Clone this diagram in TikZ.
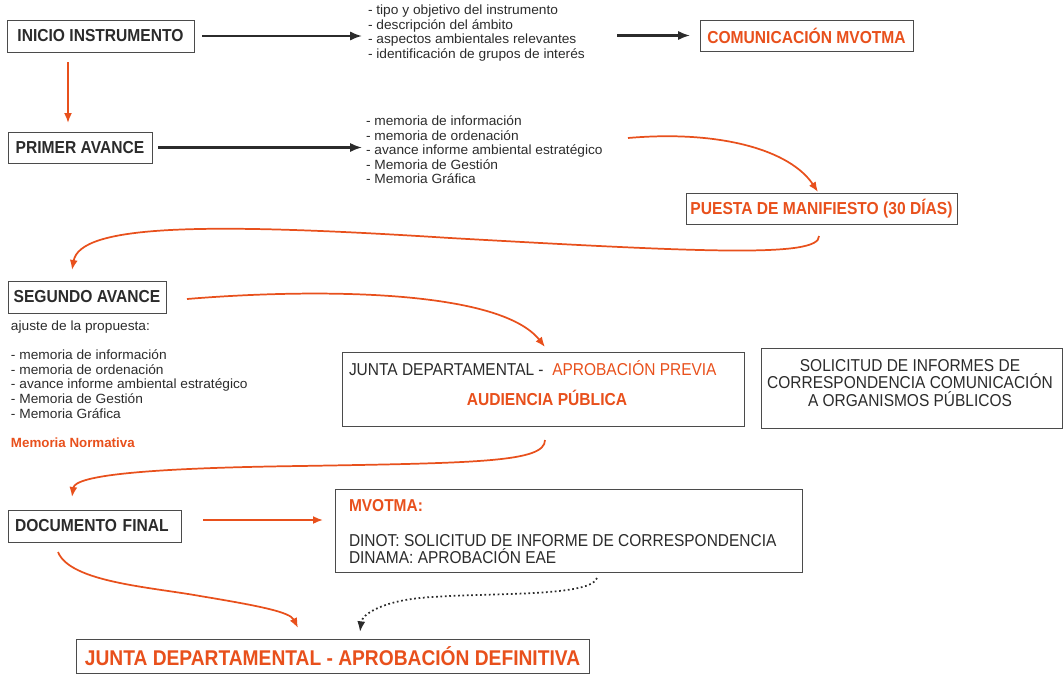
\documentclass[tikz,border=0pt]{standalone}
\usepackage{fontspec}
\setmainfont{Liberation Sans}
\newfontfamily\narrowfont[FakeStretch=0.9]{Liberation Sans}
\newfontfamily\widefont[FakeStretch=1.03]{Liberation Sans}
\usetikzlibrary{positioning,calc,arrows.meta}
\definecolor{orng}{HTML}{E8501C}
\definecolor{ink}{HTML}{2B2B2B}

\begin{document}
\begin{tikzpicture}[x=0.75pt,y=-0.75pt,
        every node/.style={inner sep=0pt,outer sep=0pt,text=ink},
        box/.style={draw=ink!85,line width=0.7pt},
        title/.style={box,font=\narrowfont\bfseries\fontsize{13}{15}\selectfont},
        plain/.style={font=\narrowfont\fontsize{12.9}{13}\selectfont},
        items/.style={font=\widefont\fontsize{10}{10.9}\selectfont,align=left,anchor=north west},
        link/.style={-{Latex[length=9pt,width=7pt]},line width=1.6pt,ink},
        flow/.style={-{Latex[length=7.5pt,width=6pt]},line width=1.3pt,orng}]
   \useasboundingbox (0,0) rectangle (1063,675);
   % boxes of the main column
   \node[title,minimum width=140.25pt,minimum height=24pt] (inicio) at (100.5,36) {INICIO INSTRUMENTO};
   \node[title,minimum width=108pt,minimum height=23.25pt] (primer) at (80,147.5) {PRIMER AVANCE};
   \node[title,minimum width=118.5pt,minimum height=24pt] (segundo) at (87,297) {SEGUNDO AVANCE};
   \node[title,align=left,text width=119.25pt,inner xsep=5.25pt,minimum height=24pt] (docf) at (94.5,526) {DOCUMENTO FINAL};
   \node[title,text=orng,minimum width=159.75pt,minimum height=23.25pt] (comun) at (806.5,35.5) {COMUNICACIÓN MVOTMA};
   \node[title,text=orng,minimum width=203.25pt,minimum height=23.25pt] (puesta) at (821.5,208.5) {PUESTA DE MANIFIESTO (30 DÍAS)};
   \node[box,text=orng,font=\narrowfont\bfseries\fontsize{16}{18}\selectfont,minimum width=384.75pt,minimum height=25.5pt] (definitiva) at (332.5,656) {JUNTA DEPARTAMENTAL - APROBACIÓN DEFINITIVA};
   % lists
   \node[items] (list1) at (368,5) {- tipo y objetivo del instrumento\\- descripción del ámbito\\- aspectos ambientales relevantes\\- identificación de grupos de interés};
   \node[items] (list2) at (366,116) {- memoria de información\\- memoria de ordenación\\- avance informe ambiental estratégico\\- Memoria de Gestión\\- Memoria Gráfica};
   \node[items] (ajuste) at (11,321) {ajuste de la propuesta:\\[11pt]- memoria de información\\- memoria de ordenación\\- avance informe ambiental estratégico\\- Memoria de Gestión\\- Memoria Gráfica};
   \node[text=orng,font=\bfseries\fontsize{10}{12}\selectfont,anchor=west] (normativa) at (11,443) {Memoria Normativa};
   % right hand boxes
   \node[box,minimum width=301.5pt,minimum height=55.5pt] (prev) at (543,389) {};
   \node[plain,anchor=west] (prevhead) at (349,368) {JUNTA DEPARTAMENTAL -\ \ {\color{orng}APROBACIÓN PREVIA}};
   \node[plain,text=orng,font=\narrowfont\bfseries\fontsize{13}{15}\selectfont] (prevsub) at (547,398) {AUDIENCIA PÚBLICA};
   \node[box,minimum width=225.75pt,minimum height=60pt] (solic) at (911.5,388) {};
   \node[plain,align=center] (soltxt) at (910,383) {SOLICITUD DE INFORMES DE\\CORRESPONDENCIA COMUNICACIÓN\\A ORGANISMOS PÚBLICOS};
   \node[box,minimum width=350.25pt,minimum height=62.25pt] (mvotma) at (568.5,530.5) {};
   \node[plain,align=left,anchor=north west] (mvtxt) at (349,499) {{\bfseries\color{orng}MVOTMA:}\\[13.5pt]DINOT: SOLICITUD DE INFORME DE CORRESPONDENCIA\\DINAMA: APROBACIÓN EAE};
   % straight connectors
   \draw[flow] ($(inicio.south west)+(61,10)$) -- ($(primer.north west)+(60,-9)$);
   \draw[link] ($(inicio.east)+(8,0)$) -- ($(list1.west |- inicio.east)+(-6,0)$);
   \draw[link] ($(list1.west |- comun.west)+(249,0)$) -- ($(comun.west)+(-10,0)$);
   \draw[link] ($(primer.east)+(6,0)$) -- ($(list2.west |- primer.east)+(-4,0)$);
   \draw[flow] ($(docf.east)+(22,-6)$) -- ($(mvotma.west |- docf.east)+(-12,-6)$);
   % curved connectors
   \draw[flow] ($(list2.north west)+(262,22)$) .. controls (720,130) and (790,150) .. ($(puesta.north)+(-3.5,-1)$);
   \draw[flow] ($(puesta.south)+(-2.5,12)$) .. controls (820,258) and (700,252) .. (450,238)
                 .. controls (200,222) and (80,225) .. ($(segundo.north west)+(64,-11)$);
   \draw[flow] ($(segundo.east)+(21,2)$) .. controls (320,288) and (500,290) .. ($(prev.north)+(2,-5)$);
   \draw[flow] ($(prev.south)+(2,14)$) .. controls (545,462) and (480,463) .. (300,466)
                 .. controls (150,468) and (75,475) .. ($(docf.north west)+(64,-13)$);
   \draw[flow] ($(docf.south west)+(50,10)$) .. controls (70,582) and (150,587) .. (200,596)
                 .. controls (260,606) and (290,612) .. ($(definitiva.north west)+(222,-11)$);
   \draw[-{Latex[length=8pt,width=6pt]},dotted,line width=1.3pt,ink] ($(mvotma.south)+(28.5,6)$) .. controls (590,598) and (480,592) .. (420,598)
                 .. controls (380,602) and (362,615) .. ($(definitiva.north west)+(284,-7)$);
\end{tikzpicture}
\end{document}
